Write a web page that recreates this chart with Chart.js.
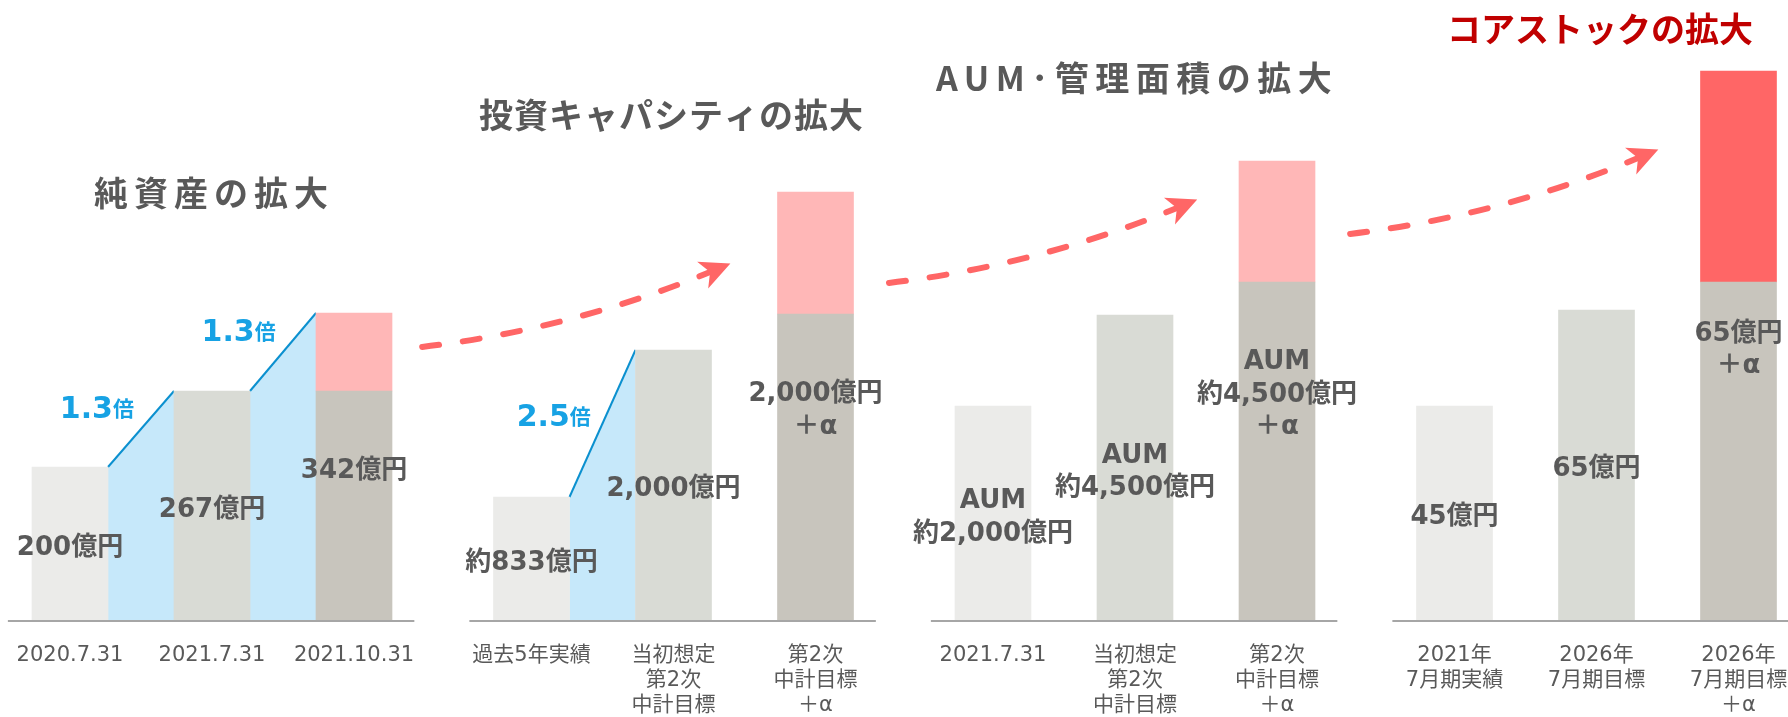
<!DOCTYPE html>
<html lang="ja">
<head>
<meta charset="utf-8">
<title>コアストックの拡大</title>
<script src="https://cdn.jsdelivr.net/npm/chart.js@4.4.1/dist/chart.umd.min.js"></script>
<style>
  html, body { margin: 0; padding: 0; background: #fff; }
  #wrap { position: relative; width: 1788px; height: 717px; overflow: hidden; }
</style>
</head>
<body>
<div id="wrap"><canvas id="growthChart"></canvas></div>
<script>
// === Data ===
const categories = [
  '2020.7.31', '2021.7.31', '2021.10.31',
  '過去5年実績', ['当初想定', '第2次', '中計目標'], ['第2次', '中計目標', '＋α'],
  '2021.7.31', ['当初想定', '第2次', '中計目標'], ['第2次', '中計目標', '＋α'],
  ['2021年', '7月期実績'], ['2026年', '7月期目標'], ['2026年', '7月期目標', '＋α']
];
const panelTitles = ['純資産の拡大', '投資キャパシティの拡大', 'AUM･管理面積の拡大', 'コアストックの拡大'];
// bar heights as drawn in the picture (relative units): base part + "+α" part on top
const baseValues = [154, 230, 230, 124, 271, 307, 215, 306, 339, 215, 311, 339];
const plusValues = [0, 0, 78, 0, 0, 122, 0, 0, 121, 0, 0, 211];
const valueLabels = [
  ['200億円'], ['267億円'], ['342億円'],
  ['約833億円'], ['2,000億円'], ['2,000億円', '＋α'],
  ['AUM', '約2,000億円'], ['AUM', '約4,500億円'], ['AUM', '約4,500億円', '＋α'],
  ['45億円'], ['65億円'], ['65億円', '＋α']
];
// growth steps between bars (index from -> index to) and their ratio
const growthFrom = [0, 1, 3];
const growthTo = [1, 2, 4];
const growthRatios = ['1.3', '1.3', '2.5'];

// === Layout / styles ===
const PANEL_STEP = 13, BAR_STEP = 4;
const slotOf = i => Math.floor(i / 3) * PANEL_STEP + (i % 3) * BAR_STEP;
const slots = categories.map((c, i) => slotOf(i));

const GREY_TEXT = '#595959';
const BLUE = '#17A2E4';
const ARROW_RED = '#FF6666';
const barColors = ['#EBEBE9', '#D9DBD5', '#C8C5BD'];
const plusColors = ['#FFB7B7', '#FFB7B7', '#FFB7B7', '#FF6666'];
const LATIN_JP = '"DejaVu Sans", "Noto Sans CJK JP", sans-serif';

const titleLayout = [
  { x: 94, y: 193, spacing: 6, color: GREY_TEXT },
  { x: 479, y: 115, spacing: 1, color: GREY_TEXT },
  { x: 936, y: 78, spacing: 6.5, color: GREY_TEXT },
  { x: 1447, y: 29, spacing: 0, color: '#C00000' }
];
// dashed arrows, in chart units (x slot, y value)
const arrowPath = [
  { from: [9.92, 274], to: [18.03, 349] },
  { from: [23.07, 338], to: [31.18, 413] },
  { from: [36.06, 387], to: [44.17, 463] }
];

// === Drawing of the extras ===
const decorations = {
  id: 'decorations',
  beforeDatasetsDraw(chart) {
    const { ctx } = chart;
    const y = chart.scales.y;
    const bars = chart.getDatasetMeta(0).data;
    const y0 = y.getPixelForValue(0);
    ctx.save();
    growthFrom.forEach((a, k) => {
      const b = growthTo[k];
      const xa = bars[a].x + bars[a].width / 2;
      const xb = bars[b].x - bars[b].width / 2;
      const ya = y.getPixelForValue(baseValues[a] + plusValues[a]);
      const yb = y.getPixelForValue(baseValues[b] + plusValues[b]);

      ctx.fillStyle = '#C6E8FA';
      ctx.beginPath();
      ctx.moveTo(xa, y0); ctx.lineTo(xa, ya); ctx.lineTo(xb, yb); ctx.lineTo(xb, y0);
      ctx.closePath();
      ctx.fill();

      ctx.strokeStyle = '#0B90CF';
      ctx.lineWidth = 2;
      ctx.beginPath(); ctx.moveTo(xa, ya); ctx.lineTo(xb, yb); ctx.stroke();

      // ratio label sits up-left of the slope
      const len = Math.hypot(xb - xa, yb - ya);
      const dx = (xb - xa) / len, dy = (yb - ya) / len;
      const cx = (xa + xb) / 2 + 48 * dy - 12 * dx;
      const cy = (ya + yb) / 2 - 48 * dx - 12 * dy;
      ctx.fillStyle = BLUE;
      ctx.textAlign = 'left';
      ctx.textBaseline = 'alphabetic';
      ctx.font = 'bold 30px ' + LATIN_JP;
      const w1 = ctx.measureText(growthRatios[k]).width;
      ctx.font = 'bold 21px "Noto Sans CJK JP"';
      const w2 = ctx.measureText('倍').width;
      const left = cx - (w1 + w2) / 2;
      ctx.font = 'bold 30px ' + LATIN_JP;
      ctx.fillText(growthRatios[k], left, cy + 11);
      ctx.font = 'bold 21px "Noto Sans CJK JP"';
      ctx.fillText('倍', left + w1, cy + 9);
    });
    ctx.restore();
  },
  afterDatasetsDraw(chart) {
    const { ctx } = chart;
    const x = chart.scales.x, y = chart.scales.y;
    const bars = chart.getDatasetMeta(0).data;
    const y0 = y.getPixelForValue(0);
    ctx.save();

    // axis line, one piece per panel
    ctx.strokeStyle = '#A6A6A6';
    ctx.lineWidth = 2;
    for (let p = 0; p < 4; p++) {
      ctx.beginPath();
      ctx.moveTo(x.getPixelForValue(slotOf(p * 3) - 1.75), y0);
      ctx.lineTo(x.getPixelForValue(slotOf(p * 3 + 2) + 1.7), y0);
      ctx.stroke();
    }

    // value labels in the middle of each stack
    ctx.fillStyle = GREY_TEXT;
    ctx.font = 'bold 26px ' + LATIN_JP;
    ctx.textAlign = 'center';
    ctx.textBaseline = 'middle';
    valueLabels.forEach((lines, i) => {
      const cy = y.getPixelForValue((baseValues[i] + plusValues[i]) / 2) + 4;
      const lh = 32.5;
      lines.forEach((t, j) => {
        ctx.fillText(t, bars[i].x, cy + (j - (lines.length - 1) / 2) * lh);
      });
    });

    // dashed arrows
    ctx.strokeStyle = ARROW_RED;
    ctx.fillStyle = ARROW_RED;
    arrowPath.forEach(a => {
      const sx = x.getPixelForValue(a.from[0]), sy = y.getPixelForValue(a.from[1]);
      const ex = x.getPixelForValue(a.to[0]), ey = y.getPixelForValue(a.to[1]);
      const qx = sx + 0.52 * (ex - sx), qy = sy + 0.24 * (ey - sy);
      ctx.save();
      ctx.lineWidth = 6;
      ctx.lineCap = 'round';
      ctx.setLineDash([17, 24]);
      ctx.beginPath();
      ctx.moveTo(sx, sy);
      ctx.quadraticCurveTo(qx, qy, ex, ey);
      ctx.stroke();
      ctx.setLineDash([]);
      ctx.translate(ex, ey);
      ctx.rotate(Math.atan2(ey - qy, ex - qx));
      ctx.beginPath();
      ctx.moveTo(22, 0);
      ctx.lineTo(-8, -14.5);
      ctx.lineTo(0, 0);
      ctx.lineTo(-8, 14.5);
      ctx.closePath();
      ctx.fill();
      ctx.restore();
    });
    ctx.restore();
  },
  afterDraw(chart) {
    const { ctx } = chart;
    ctx.save();
    ctx.textAlign = 'left';
    ctx.textBaseline = 'middle';
    ctx.font = 'bold 34px "Noto Sans CJK JP"';
    panelTitles.forEach((t, i) => {
      const l = titleLayout[i];
      ctx.fillStyle = l.color;
      ctx.letterSpacing = l.spacing + 'px';
      ctx.fillText(t, l.x, l.y);
    });
    ctx.restore();
  }
};

// === Chart ===
Chart.defaults.font.family = LATIN_JP;

const ctx = document.getElementById('growthChart');
new Chart(ctx, {
  type: 'bar',
  data: {
    datasets: [
      {
        label: 'base',
        data: baseValues.map((v, i) => ({ x: slots[i], y: v })),
        backgroundColor: baseValues.map((v, i) => barColors[i % 3]),
        barThickness: 76,
        borderWidth: 0,
        clip: false
      },
      {
        label: 'plus',
        data: plusValues.map((v, i) => ({ x: slots[i], y: v || null })),
        backgroundColor: plusValues.map((v, i) => plusColors[Math.floor(i / 3)]),
        barThickness: 76,
        borderWidth: 0,
        clip: false
      }
    ]
  },
  options: {
    responsive: true,
    maintainAspectRatio: false,
    animation: false,
    layout: { padding: { left: 70, right: 49.5, top: 0, bottom: 0 } },
    plugins: {
      legend: { display: false },
      tooltip: { enabled: false }
    },
    scales: {
      x: {
        type: 'linear',
        min: 0,
        max: 47,
        offset: false,
        stacked: true,
        grid: { display: false, drawTicks: false },
        border: { display: false },
        afterBuildTicks: s => { s.ticks = slots.map(v => ({ value: v })); },
        afterFit: s => { s.height = 96; s.paddingLeft = 0; s.paddingRight = 0; },
        ticks: {
          autoSkip: false,
          maxRotation: 0,
          padding: 22,
          color: GREY_TEXT,
          font: { size: 21, lineHeight: 1.2 },
          callback: v => categories[slots.indexOf(v)]
        }
      },
      y: { display: false, min: 0, max: 621, stacked: true }
    }
  },
  plugins: [decorations]
});
</script>
</body>
</html>
